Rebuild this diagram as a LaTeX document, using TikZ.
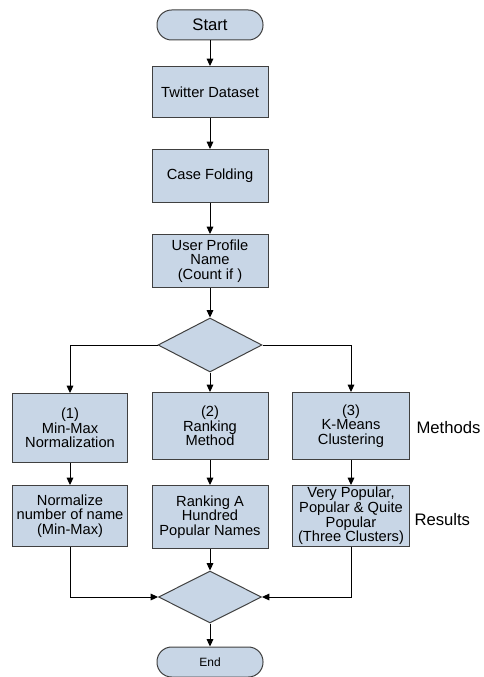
\documentclass[tikz,border=0pt]{standalone}
\usepackage{fontspec}
\setmainfont{Liberation Sans}
\usetikzlibrary{shapes.geometric,arrows.meta}
\definecolor{boxfill}{RGB}{200,214,230}
\definecolor{boxline}{RGB}{64,64,64}

\begin{document}
\begin{tikzpicture}[x=0.75pt,y=-0.75pt,line width=0.75pt,>={Triangle[length=5.5pt,width=5pt]}]
            \useasboundingbox (0,0) rectangle (483,677);
            \begin{scope}[every node/.style={draw=boxline,fill=boxfill,align=center,inner sep=1pt,font=\fontsize{11}{11}\selectfont}]
                \node[rounded corners=11pt,minimum width=79.5pt,minimum height=22.5pt,font=\fontsize{12.5}{14}\selectfont] (start) at (210,25) {Start};
                \node[minimum width=87pt,minimum height=38.25pt] (tw) at (210,92) {Twitter Dataset};
                \node[minimum width=87pt,minimum height=39.75pt] (cf) at (210,176) {Case Folding};
                \node[minimum width=87pt,minimum height=39.75pt] (up) at (210,261) {User Profile\\Name\\(Count if )};
                \node[diamond,minimum width=78pt,minimum height=40.5pt,inner sep=0pt] (d1) at (210,345) {};
                \node[minimum width=86.25pt,minimum height=51.75pt] (m1) at (70,428) {(1)\\Min-Max\\Normalization};
                \node[minimum width=87pt,minimum height=50.25pt] (m2) at (210,426) {(2)\\Ranking\\Method};
                \node[minimum width=87.75pt,minimum height=50.25pt] (m3) at (351,426) {(3)\\K-Means\\Clustering};
                \node[minimum width=86.25pt,minimum height=45.75pt] (r1) at (70,516) {Normalize\\number of name\\(Min-Max)};
                \node[minimum width=87pt,minimum height=47.25pt] (r2) at (210,517) {Ranking A\\Hundred\\Popular Names};
                \node[minimum width=87.75pt,minimum height=45.75pt,inner sep=0.5pt] (r3) at (351,516) {Very Popular,\\Popular \& Quite\\Popular\\(Three Clusters)};
                \node[diamond,minimum width=77.25pt,minimum height=39pt,inner sep=0pt] (d2) at (210,597) {};
                \node[rounded corners=11pt,minimum width=79.5pt,minimum height=22.5pt,font=\fontsize{9}{11}\selectfont] (end) at (210,662) {End};
            \end{scope}
            \node[anchor=west,inner sep=0pt,font=\fontsize{12.5}{14}\selectfont] (lbmeth) at (416,428) {Methods};
            \node[anchor=west,inner sep=0pt,font=\fontsize{12.5}{14}\selectfont] (lbres) at (414,520) {Results};
            \draw (start) edge [->] (tw);
            \draw (tw) edge [->] (cf);
            \draw (cf) edge [->] (up);
            \draw (up) edge [->] (d1);
            \draw [->] (d1.west) -| (m1);
            \draw (d1) edge [->] (m2);
            \draw [->] (d1.east) -| (m3);
            \draw (m1) edge [->] (r1);
            \draw (m2) edge [->] (r2);
            \draw (m3) edge [->] (r3);
            \draw [->] (r1) |- (d2.west);
            \draw (r2) edge [->] (d2);
            \draw [->] (r3) |- (d2.east);
            \draw (d2) edge [->] (end);
        \end{tikzpicture}
\end{document}
